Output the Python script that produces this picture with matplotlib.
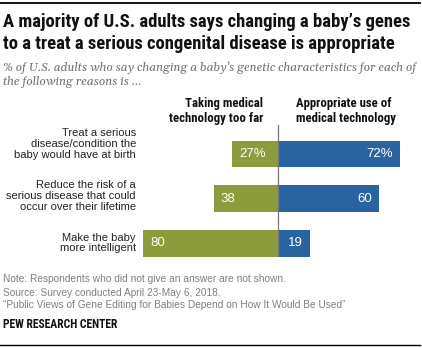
import matplotlib
matplotlib.use("Agg")
import matplotlib.pyplot as plt
from matplotlib import font_manager
from matplotlib.font_manager import FontProperties

# Survey results: share saying each use of gene editing is ...
categories = [
    "Treat a serious\ndisease/condition the\nbaby would have at birth",
    "Reduce the risk of a\nserious disease that could\noccur over their lifetime",
    "Make the baby\nmore intelligent",
]
too_far = [27, 38, 80]
appropriate = [72, 60, 19]
too_far_labels = ["27%", "38", "80"]
appropriate_labels = ["72%", "60", "19"]

title = ("A majority of U.S. adults says changing a baby\u2019s genes\n"
         "to a treat a serious congenital disease is appropriate")
subtitle = ("% of U.S. adults who say changing a baby\u2019s genetic characteristics for each of\n"
            "the following reasons is ...")
header_left = "Taking medical\ntechnology too far"
header_right = "Appropriate use of\nmedical technology"
notes = [
    "Note: Respondents who did not give an answer are not shown.",
    "Source: Survey conducted April 23-May 6, 2018.",
    "\u201cPublic Views of Gene Editing for Babies Depend on How It Would Be Used\u201d",
]
credit = "PEW RESEARCH CENTER"

GREEN = "#8c9b3c"
BLUE = "#2a64a0"

TTF = font_manager.fontManager.ttflist


def wnum(w):
    if isinstance(w, (int, float)):
        return w
    table = {"thin": 100, "extralight": 200, "light": 300, "normal": 400, "regular": 400,
             "book": 400, "medium": 500, "semibold": 600, "demibold": 600, "bold": 700,
             "extrabold": 800, "heavy": 800, "black": 900}
    return table.get(str(w).lower(), 400)


def font(families, weight=400, style="normal", tol=100):
    """Return properties for the first family offering a face near the wanted weight."""
    for fam in families:
        cands = [f for f in TTF
                 if (f.name == fam or f.name.startswith(fam + " ")) and f.style == style]
        if not cands:
            continue
        best = min(cands, key=lambda f: abs(wnum(f.weight) - weight))
        if abs(wnum(best.weight) - weight) <= tol:
            return FontProperties(fname=best.fname)
    return FontProperties(family="DejaVu Sans", weight=weight, style=style)


SANS = font(["Libre Franklin", "Liberation Sans"], 400)
SANS_BOLD = font(["Libre Franklin", "Roboto", "Liberation Sans"], 700)
SANS_DEMI = font(["Libre Franklin", "Roboto", "Liberation Sans"], 600)
SERIF_IT = font(["Gelasio", "Liberation Serif"], 400, "italic")

W, H = 422, 348
fig = plt.figure(figsize=(W / 100, H / 100), dpi=100)
renderer = fig.canvas.get_renderer()


def fx(px):
    return px / W


def fy(py):
    return 1 - py / H


def fit(t, width_px):
    """Scale a text's font size so its widest line spans width_px pixels."""
    w = t.get_window_extent(renderer).width
    t.set_fontsize(t.get_fontsize() * width_px / w)
    return t


# rules at top and bottom
fig.add_artist(plt.Line2D([fx(0), fx(420)], [fy(2.5), fy(2.5)], color="black", lw=1.3))
fig.add_artist(plt.Line2D([fx(0), fx(420)], [fy(345), fy(345)], color="black", lw=1.0))

fit(fig.text(fx(3), fy(33), title, fontproperties=SANS_BOLD, fontsize=13,
             va="center", ha="left", linespacing=1.25, color="#111111"), 408)
fit(fig.text(fx(3), fy(74.5), subtitle, fontproperties=SERIF_IT, fontsize=9,
             va="center", ha="left", linespacing=1.25, color="#727272"), 413)

# diverging bar axes
ax = fig.add_axes([fx(139.4), fy(257), fx(277.2), 132 / H])
ax.set_xlim(-82, 82)
ax.set_ylim(2 + 13.5 / 44.75, -29 / 44.75)
ypos = list(range(len(categories)))
ax.barh(ypos, [-v for v in too_far], height=0.6, color=GREEN)
ax.barh(ypos, appropriate, height=0.6, color=BLUE)
ax.axvline(0, color="#777777", lw=0.9)
off = 4.2
for y, v, s in zip(ypos, too_far, too_far_labels):
    ax.text(-v + off, y, s, color="white", fontproperties=SANS, fontsize=9.5,
            va="center", ha="left")
for y, v, s in zip(ypos, appropriate, appropriate_labels):
    ax.text(v - off, y, s, color="white", fontproperties=SANS, fontsize=9.5,
            va="center", ha="right")
ax.axis("off")

label_centers = [144, 195.7, 243]
cat_texts = []
for c, lab in zip(label_centers, categories):
    cat_texts.append(fig.text(fx(136), fy(c), lab, fontproperties=SANS, fontsize=9,
                              ha="right", va="center", linespacing=1.12, color="#222222"))
fit(cat_texts[1], 130)
for t in cat_texts:
    t.set_fontsize(cat_texts[1].get_fontsize())

hl = fit(fig.text(fx(263), fy(111), header_left, fontproperties=SANS_DEMI, fontsize=8.6,
                  ha="right", va="center", linespacing=1.12, color="#111111"), 93)
fig.text(fx(296), fy(111), header_right, fontproperties=SANS_DEMI, fontsize=hl.get_fontsize(),
         ha="left", va="center", linespacing=1.12, color="#111111")

note_texts = [fig.text(fx(3), fy(py), line, fontproperties=SANS, fontsize=7.5,
                       color="#808080", va="center", ha="left")
              for py, line in zip([279.5, 292.7, 305.5], notes)]
fit(note_texts[2], 339)
for t in note_texts:
    t.set_fontsize(note_texts[2].get_fontsize())
fit(fig.text(fx(3), fy(324.5), credit, fontproperties=SANS_DEMI, fontsize=7.5,
             color="#111111", va="center", ha="left"), 115)

fig.savefig("out.png", dpi=100)
